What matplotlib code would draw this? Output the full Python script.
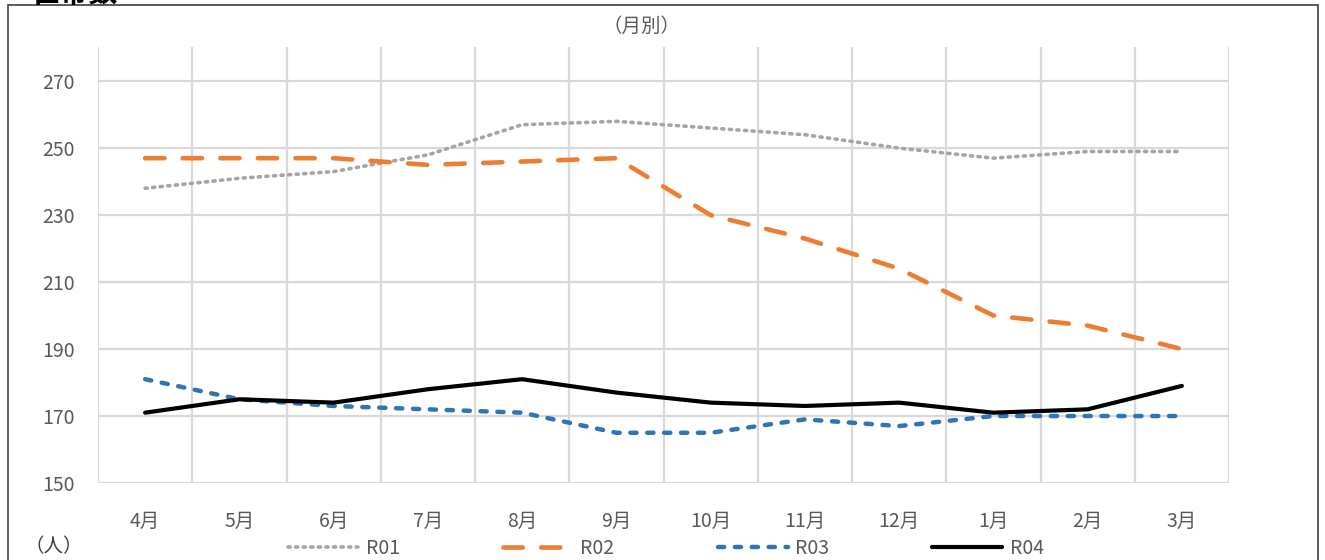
import matplotlib
matplotlib.use("Agg")
import matplotlib.pyplot as plt
from matplotlib.patches import Rectangle

plt.rcParams["font.family"] = ["Noto Sans CJK JP", "DejaVu Sans"]

months = ["4月", "5月", "6月", "7月", "8月", "9月", "10月", "11月", "12月", "1月", "2月", "3月"]
r01 = [238, 241, 243, 248, 257, 258, 256, 254, 250, 247, 249, 249]
r02 = [247, 247, 247, 245, 246, 247, 230, 223, 214, 200, 197, 190]
r03 = [181, 175, 173, 172, 171, 165, 165, 169, 167, 170, 170, 170]
r04 = [171, 175, 174, 178, 181, 177, 174, 173, 174, 171, 172, 179]
yticks = [150, 170, 190, 210, 230, 250, 270]

W, H = 1325, 560
fig = plt.figure(figsize=(W / 100, H / 100), dpi=100)
ax = fig.add_axes([98 / W, 1 - 483 / H, (1229 - 98) / W, (483 - 47) / H])

x = list(range(len(months)))
grid_c = "#D9D9D9"
ax.plot(x, r01, color="#A5A5A5", lw=2.6, linestyle=(0, (0.6, 1.5)),
        dash_capstyle="round", label="R01", zorder=3)
ax.plot(x, r02, color="#ED7D31", lw=3.3, linestyle=(0, (4.2, 4.0)),
        dash_capstyle="round", label="R02", zorder=3)
ax.plot(x, r03, color="#2E75B6", lw=3.2, linestyle=(0, (1.4, 2.4)),
        dash_capstyle="round", label="R03", zorder=3)
ax.plot(x, r04, color="black", lw=3.0, solid_capstyle="round", label="R04", zorder=4)

ax.set_xlim(-0.5, len(months) - 0.5)
ax.set_ylim(150, 280.2)
ax.set_yticks(yticks)
ax.set_xticks(x)
ax.set_xticklabels(months)
ax.tick_params(axis="both", length=0, labelsize=14, labelcolor="#595959")
ax.tick_params(axis="x", pad=20)
ax.tick_params(axis="y", pad=17)

for v in yticks:
    ax.axhline(v, color=grid_c, lw=1.6, zorder=1)
for b in range(len(months) + 1):
    ax.axvline(b - 0.5, color=grid_c, lw=1.6, zorder=1)
for s in ax.spines.values():
    s.set_visible(False)

fig.text(641 / W, 1 - 26 / H, "（月別）", ha="center", va="center", fontsize=14, color="#595959")
fig.text(25 / W, 1 - 547 / H, "（人）", ha="left", va="center", fontsize=14, color="#404040")
fig.text(31 / W, 1 - 2 / H, "世帯数", ha="left", va="baseline", fontsize=21,
         fontweight="bold", color="black")

fig.legend(loc="center", bbox_to_anchor=(666 / W, 1 - 548 / H), ncol=4, frameon=False,
           fontsize=14, labelcolor="#595959", handlelength=3.6, handletextpad=0.4,
           columnspacing=5.3)

fig.patches.append(Rectangle((8 / W, -0.05), (1318 - 8) / W, 1 - 5 / H + 0.05,
                             transform=fig.transFigure, fill=False, edgecolor="#404040",
                             lw=1.2))

fig.savefig("out.png", dpi=100)
